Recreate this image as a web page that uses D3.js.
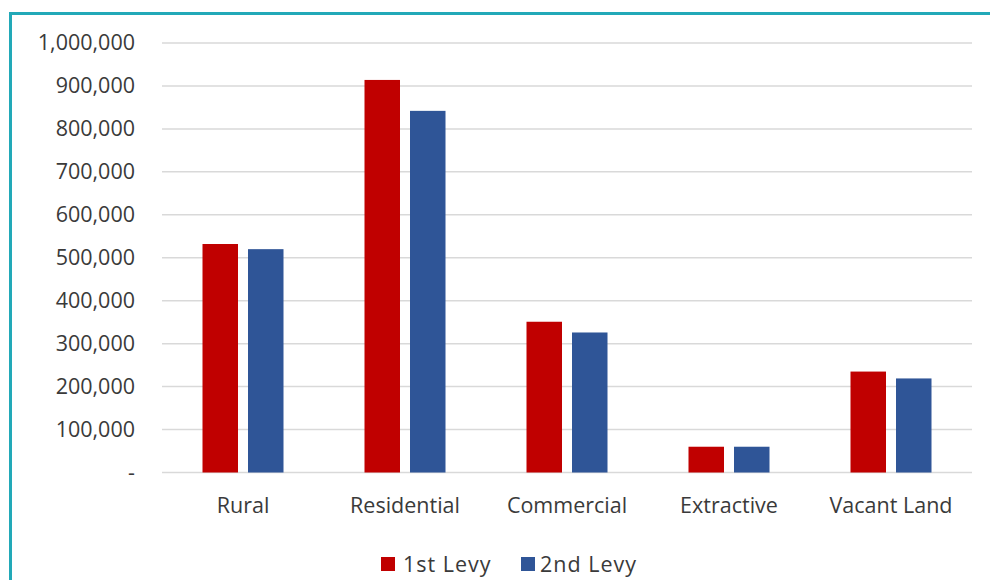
<!DOCTYPE html>
<html>
<head>
<meta charset="utf-8">
<script src="https://cdn.jsdelivr.net/npm/d3@7"></script>
<style>
  html, body { margin: 0; padding: 0; background: #fff; }
  svg { display: block; font-family: "Open Sans", "Noto Sans", sans-serif; }
</style>
</head>
<body>
<svg id="chart" width="990" height="580"></svg>
<script>
// Land use categories and levy totals
const categories = ["Rural", "Residential", "Commercial", "Extractive", "Vacant Land"];
const seriesNames = ["1st Levy", "2nd Levy"];
const firstLevy  = [532000, 914000, 351000, 60000, 235000];
const secondLevy = [520000, 842000, 326000, 60000, 219000];
const yTicks = [0, 100000, 200000, 300000, 400000, 500000, 600000, 700000, 800000, 900000, 1000000];
const colors = ["#C00000", "#2F5597"];

const svg = d3.select("#chart");
const textColor = "#3a3a3a";
const fontSize = "21.5px";

// Frame
svg.append("rect")
  .attr("x", 10.5).attr("y", 13.5)
  .attr("width", 1000).attr("height", 600)
  .attr("fill", "none")
  .attr("stroke", "#22a9b8")
  .attr("stroke-width", 3);

const plot = { left: 162, right: 972, top: 43, bottom: 472.5 };

const y = d3.scaleLinear().domain([0, 1000000]).range([plot.bottom, plot.top]);
const x0 = d3.scaleBand().domain(categories).range([plot.left, plot.right])
  .paddingInner(0.5).paddingOuter(0.25);
const x1 = d3.scaleBand().domain(seriesNames).range([0, x0.bandwidth()]).paddingInner(0.22);

const fmt = v => v === 0 ? "-" : d3.format(",")(v);

// Gridlines
svg.append("g")
  .selectAll("line")
  .data(yTicks)
  .join("line")
  .attr("x1", plot.left).attr("x2", plot.right)
  .attr("y1", d => y(d)).attr("y2", d => y(d))
  .attr("stroke", "#d9d9d9")
  .attr("stroke-width", 1.5);

// Y axis labels
const yAxis = d3.axisLeft(y).tickValues(yTicks).tickFormat(fmt).tickSize(0).tickPadding(0);
svg.append("g")
  .attr("transform", "translate(135,0)")
  .call(yAxis)
  .call(g => g.select(".domain").remove())
  .call(g => g.selectAll("text")
    .attr("fill", textColor)
    .style("font-size", fontSize)
    .style("font-family", "'Open Sans', 'Noto Sans', sans-serif"));

// Bars
const rows = categories.map((c, i) => ({ cat: c, vals: [firstLevy[i], secondLevy[i]] }));
const groups = svg.append("g").selectAll("g")
  .data(rows)
  .join("g")
  .attr("transform", d => `translate(${x0(d.cat)},0)`);

groups.selectAll("rect")
  .data(d => d.vals.map((v, k) => ({ name: seriesNames[k], value: v, k })))
  .join("rect")
  .attr("x", d => x1(d.name))
  .attr("width", x1.bandwidth())
  .attr("y", d => y(d.value))
  .attr("height", d => y(0) - y(d.value))
  .attr("fill", d => colors[d.k]);

// X axis labels
const xAxis = d3.axisBottom(x0).tickSize(0).tickPadding(0);
svg.append("g")
  .attr("transform", `translate(0,${plot.bottom + 20})`)
  .call(xAxis)
  .call(g => g.select(".domain").remove())
  .call(g => g.selectAll("text")
    .attr("fill", textColor)
    .attr("dy", "0.93em")
    .style("font-size", fontSize)
    .style("font-family", "'Open Sans', 'Noto Sans', sans-serif"));

// Legend
const legendItems = [
  { name: seriesNames[0], color: colors[0], x: 381, tx: 403 },
  { name: seriesNames[1], color: colors[1], x: 521, tx: 540 }
];
const legend = svg.append("g");
legendItems.forEach(it => {
  legend.append("rect")
    .attr("x", it.x).attr("y", 557)
    .attr("width", 14).attr("height", 14)
    .attr("fill", it.color);
  legend.append("text")
    .attr("x", it.tx).attr("y", 572)
    .attr("fill", textColor)
    .style("font-size", fontSize)
    .style("letter-spacing", "1px")
    .text(it.name);
});
</script>
</body>
</html>
